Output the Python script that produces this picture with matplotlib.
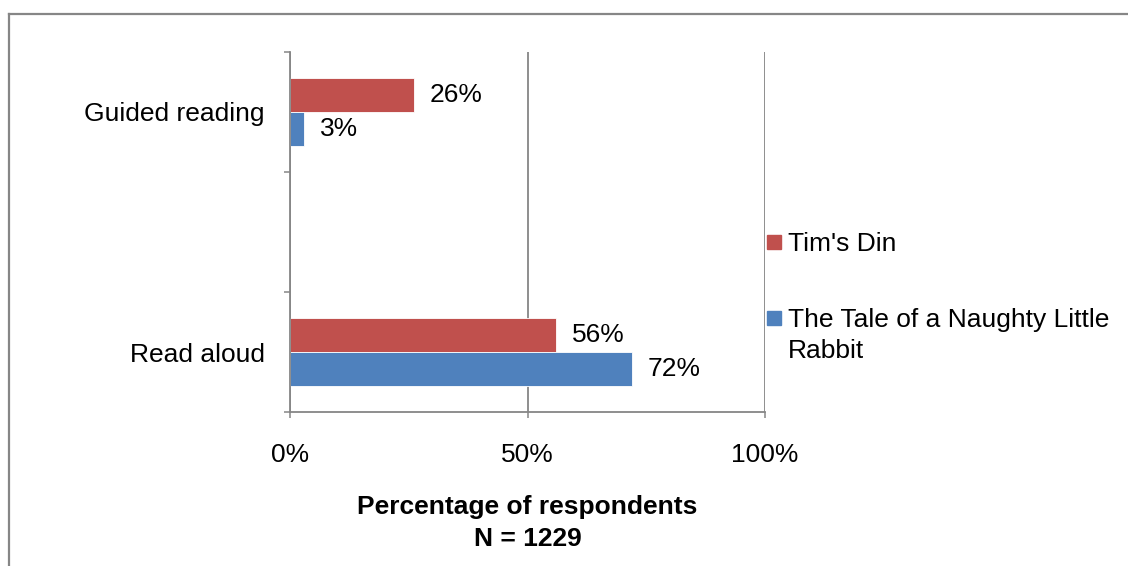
import matplotlib.pyplot as plt
from matplotlib.patches import Rectangle
from matplotlib.lines import Line2D

plt.rcParams['font.family'] = ['Liberation Sans', 'DejaVu Sans']

# 数据
categories = ['Read aloud', '', 'Guided reading']
series_names = ["Tim's Din", 'The Tale of a Naughty Little\nRabbit']
tims_din = [0.56, None, 0.26]
tale_rabbit = [0.72, None, 0.03]
x_ticks = [0, 0.5, 1.0]
x_tick_labels = ['0%', '50%', '100%']
colors = ['#C0504D', '#4F81BD']
grey = '#868686'
fs = 19

fig = plt.figure(figsize=(11.28, 5.66), dpi=100)
ax = fig.add_axes([290 / 1128, 1 - 412 / 566, 475 / 1128, 360 / 566])

bar_h = 0.283
pos = list(range(len(categories)))
for vals, off, col in [(tims_din, bar_h / 2, colors[0]), (tale_rabbit, -bar_h / 2, colors[1])]:
    for p, v in zip(pos, vals):
        if v is None:
            continue
        ax.barh(p + off, v, height=bar_h, color=col, edgecolor='white', linewidth=0.6)
        ax.text(v + 0.033, p + off, f'{round(v * 100)}%', va='center', ha='left', fontsize=fs)

ax.set_xlim(0, 1)
ax.set_ylim(-0.5, len(categories) - 0.5)
ax.set_xticks(x_ticks)
ax.set_xticklabels(x_tick_labels, fontsize=fs)
ax.set_yticks(pos)
ax.set_yticklabels(categories, fontsize=fs)
ax.set_yticks([p - 0.5 for p in range(len(categories) + 1)], minor=True)
ax.tick_params(axis='y', which='major', length=0, pad=18)
ax.tick_params(axis='y', which='minor', length=4.5, width=1.1, color=grey, direction='out')
ax.tick_params(axis='x', length=4.5, width=1.1, color=grey, direction='out', pad=18)

ax.xaxis.grid(True, color=grey, linewidth=1.3)
ax.set_axisbelow(True)
for s in ['top', 'right']:
    ax.spines[s].set_visible(False)
for s in ['left', 'bottom']:
    ax.spines[s].set_color(grey)
    ax.spines[s].set_linewidth(1.3)

ax.set_xlabel('Percentage of respondents\nN = 1229', fontsize=fs, fontweight='bold',
              labelpad=20, linespacing=1.4)

# 图例（手动绘制）
legend_y = [242, 318]
for name, col, ly in zip(series_names, colors, legend_y):
    fy = 1 - ly / 566
    fig.add_artist(Rectangle((767 / 1128, fy - 7 / 566), 14 / 1128, 14 / 566,
                             transform=fig.transFigure, color=col))
    fig.text(788 / 1128, fy + 10 / 566, name, ha='left', va='top', fontsize=fs,
             linespacing=1.35)

# 外框
fig.add_artist(Line2D([8.5 / 1128, 1], [1 - 13.5 / 566] * 2, transform=fig.transFigure,
                      color=grey, linewidth=1.6))
fig.add_artist(Line2D([8.5 / 1128] * 2, [0, 1 - 13.5 / 566], transform=fig.transFigure,
                      color=grey, linewidth=1.6))

fig.savefig('out.png', dpi=100)
